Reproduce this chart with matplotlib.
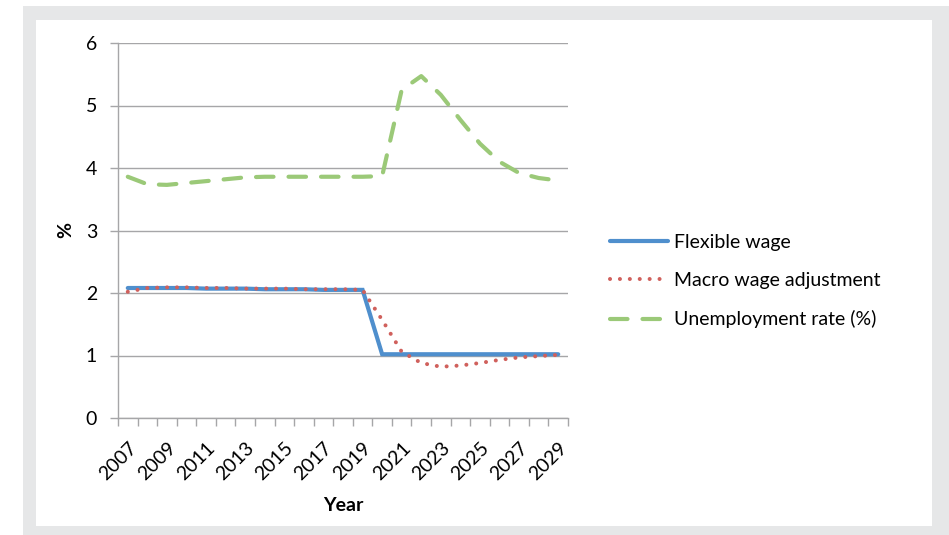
import numpy as np
import matplotlib.pyplot as plt
from matplotlib.patches import Rectangle

plt.rcParams['font.family'] = ['Lato', 'DejaVu Sans']

years = list(range(2007, 2030))
flexible_wage = [2.08, 2.08, 2.08, 2.08, 2.07, 2.07, 2.07, 2.06, 2.06, 2.06, 2.05, 2.05, 2.05,
                 1.02, 1.02, 1.02, 1.02, 1.02, 1.02, 1.02, 1.02, 1.02, 1.02]
macro_adjustment = [2.02, 2.08, 2.09, 2.09, 2.08, 2.08, 2.07, 2.07, 2.07, 2.06, 2.06, 2.06, 2.05,
                    1.57, 1.06, 0.88, 0.82, 0.84, 0.88, 0.93, 0.97, 0.99, 1.01]
unemployment = [3.86, 3.74, 3.73, 3.76, 3.79, 3.82, 3.85, 3.86, 3.86, 3.86, 3.86, 3.86, 3.86,
                3.87, 5.25, 5.47, 5.17, 4.77, 4.39, 4.10, 3.92, 3.84, 3.80]

W, H = 949, 535
fig = plt.figure(figsize=(W / 100, H / 100), dpi=100)
fig.patch.set_facecolor('white')


def px_rect(x0, y0, x1, y1, color):
    # rectangle given in pixel coords measured from the top-left corner
    r = Rectangle((x0 / W, 1 - y1 / H), (x1 - x0) / W, (y1 - y0) / H,
                  transform=fig.transFigure, facecolor=color, edgecolor='none', zorder=-10)
    fig.add_artist(r)


px_rect(23, 6, W, H, '#e6e7e8')
px_rect(36, 20, 932, 526, 'white')

ax = fig.add_axes([118 / W, 1 - 418 / H, (568 - 118) / W, (418 - 43) / H])
ax.set_facecolor('none')

x = np.arange(len(years))
axis_grey = '#a6a6a8'

ax.plot(x, flexible_wage, color='#4f8fcd', lw=3, solid_capstyle='round',
        solid_joinstyle='miter', label='Flexible wage', zorder=3)
ax.plot(x, macro_adjustment, color='#d0605c', lw=2.9, linestyle=(0, (0.01, 2.45)),
        dash_capstyle='round', label='Macro wage adjustment', zorder=4)
ax.plot(x, unemployment, color='#9bc978', lw=3, linestyle=(0, (4.2, 3.6)),
        dash_capstyle='round', label='Unemployment rate (%)', zorder=2)

ax.set_xlim(-0.5, len(years) - 0.5)
ax.set_ylim(0, 6)
ax.set_yticks(range(0, 7))
ax.yaxis.grid(True, color=axis_grey, lw=1)
ax.set_axisbelow(True)

ax.set_xticks(x[::2])
ax.set_xticklabels([str(y) for y in years[::2]], rotation=45, ha='right',
                   rotation_mode='anchor', fontsize=14)
ax.set_xticks(np.arange(-0.5, len(years)), minor=True)
ax.tick_params(axis='x', which='major', length=0, pad=15)
ax.tick_params(axis='x', which='minor', length=6, color=axis_grey, width=1)
ax.tick_params(axis='y', length=6, color=axis_grey, width=1, labelsize=14, pad=9)

for side in ['top', 'right']:
    ax.spines[side].set_visible(False)
for side in ['left', 'bottom']:
    ax.spines[side].set_color(axis_grey)
    ax.spines[side].set_linewidth(1)

ax.set_xlabel('Year', fontsize=14, fontweight='bold', labelpad=10)
ax.set_ylabel('%', fontsize=14, fontweight='bold', rotation=90, labelpad=8)

ax.legend(loc='center left', bbox_to_anchor=(592 / W, 1 - 281 / H), bbox_transform=fig.transFigure,
          frameon=False, fontsize=14, handlelength=3.0, handletextpad=0.3, labelspacing=1.1)

fig.savefig('out.png', dpi=100, facecolor=fig.get_facecolor())
